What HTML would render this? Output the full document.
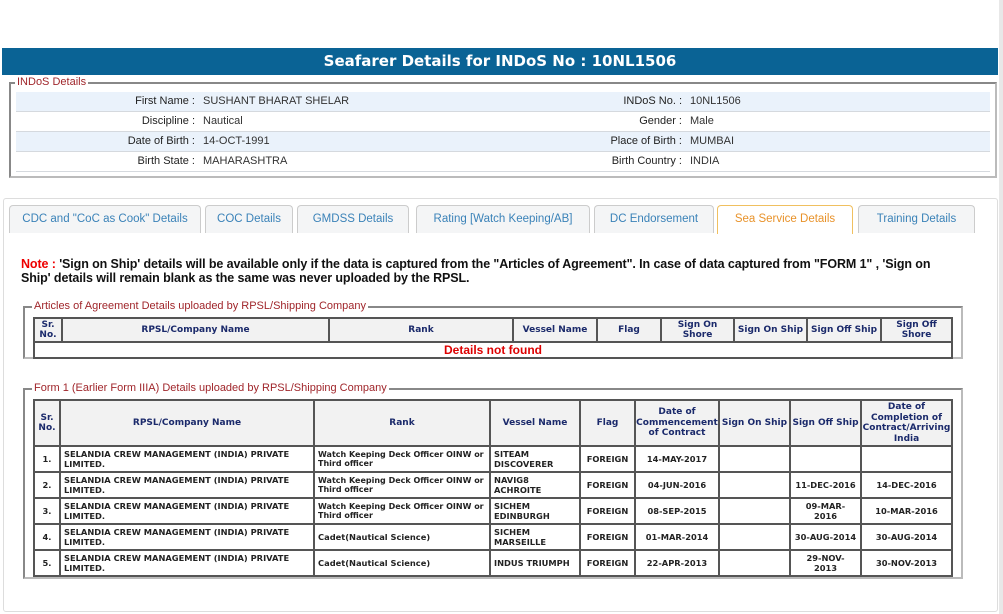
<!DOCTYPE html>
<html><head><meta charset="utf-8"><style>
*{box-sizing:border-box;margin:0;padding:0}
body{width:1003px;height:614px;background:#fff;position:relative;overflow:hidden;font-family:"Liberation Sans",Arial,sans-serif}
.a{position:absolute}
.hdr{left:2px;top:48px;width:996px;height:27px;background:#0a6395;color:#fff;font:bold 15px "DejaVu Sans",Verdana,sans-serif;text-align:center;line-height:27px}
.fs{position:absolute;border:2px solid #888;border-right-color:#bbb;border-bottom-color:#bbb}
.lg{position:absolute;background:#fff;color:#a0262b;font-size:11px;padding:0 2px;line-height:12px}
.row{position:absolute;left:16px;width:974px;height:20px;border-bottom:1px solid #d5d9de;font-size:11px;line-height:19px;color:#333}
.row span{position:absolute}
.l{text-align:right}
.tab{position:absolute;top:205px;height:28px;border:1px solid #ccc;border-bottom:none;border-radius:4px 4px 0 0;background:#f4f5f6;color:#3a82b8;font-size:11.5px;text-align:center;line-height:27px}
table{position:absolute;border-collapse:collapse;table-layout:fixed;font-family:"DejaVu Sans",Verdana,sans-serif;font-weight:bold;font-size:8.3px;color:#222}
td,th{border:2px solid #555;padding:0 3px;overflow:hidden}
th{background:#f2f2f2;color:#1b2a6b;font-size:9px;line-height:10.5px;text-align:center;padding:0}
td.c{text-align:center;padding:0}
</style></head><body>
<div class="a" style="left:999px;top:0;width:4px;height:614px;background:#e8e8e8"></div>
<div class="a hdr">Seafarer Details for INDoS No : 10NL1506</div>
<div class="fs" style="left:9px;top:82px;width:988px;height:96px"></div>
<div class="lg" style="left:15px;top:76px">INDoS Details</div>
<div class="row" style="top:92px;background:#eaf2fb"><span class="l" style="left:0;width:179px;color:#222">First Name :</span><span style="left:187px">SUSHANT BHARAT SHELAR</span><span class="l" style="left:400px;width:266px;color:#222">INDoS No. :</span><span style="left:674px">10NL1506</span></div>
<div class="row" style="top:112px"><span class="l" style="left:0;width:179px;color:#222">Discipline :</span><span style="left:187px">Nautical</span><span class="l" style="left:400px;width:266px;color:#222">Gender :</span><span style="left:674px">Male</span></div>
<div class="row" style="top:132px;background:#eaf2fb"><span class="l" style="left:0;width:179px;color:#222">Date of Birth :</span><span style="left:187px">14-OCT-1991</span><span class="l" style="left:400px;width:266px;color:#222">Place of Birth :</span><span style="left:674px">MUMBAI</span></div>
<div class="row" style="top:152px"><span class="l" style="left:0;width:179px;color:#222">Birth State :</span><span style="left:187px">MAHARASHTRA</span><span class="l" style="left:400px;width:266px;color:#222">Birth Country :</span><span style="left:674px">INDIA</span></div>

<div class="a" style="left:3px;top:198px;width:995px;height:414px;border:1px solid #ddd;border-radius:3px"></div>
<div class="tab" style="left:9px;width:192px">CDC and "CoC as Cook" Details</div>
<div class="tab" style="left:205px;width:88px">COC Details</div>
<div class="tab" style="left:297px;width:112px">GMDSS Details</div>
<div class="tab" style="left:416px;width:174px">Rating [Watch Keeping/AB]</div>
<div class="tab" style="left:594px;width:120px">DC Endorsement</div>
<div class="tab" style="left:717px;width:136px;background:#fff;border-color:#f0c060;color:#e8922a;height:29px">Sea Service Details</div>
<div class="tab" style="left:858px;width:117px">Training Details</div>

<div class="a" style="left:21px;top:257px;width:945px;font-size:12.5px;font-weight:bold;line-height:14px;color:#111;letter-spacing:-0.1px"><span style="color:#e00">Note : </span>'Sign on Ship' details will be available only if the data is captured from the "Articles of Agreement". In case of data captured from "FORM 1" , 'Sign on<br>Ship' details will remain blank as the same was never uploaded by the RPSL.</div>

<div class="fs" style="left:23px;top:306px;width:940px;height:53px"></div>
<div class="lg" style="left:32px;top:300px">Articles of Agreement Details uploaded by RPSL/Shipping Company</div>
<table style="left:33px;top:317px;width:920px">
<colgroup><col style="width:28px"><col style="width:267px"><col style="width:184px"><col style="width:84px"><col style="width:64px"><col style="width:73px"><col style="width:73px"><col style="width:74px"><col></colgroup>
<tr style="height:24px"><th>Sr.<br>No.</th><th>RPSL/Company Name</th><th>Rank</th><th>Vessel Name</th><th>Flag</th><th>Sign On<br>Shore</th><th>Sign On Ship</th><th>Sign Off Ship</th><th>Sign Off<br>Shore</th></tr>
<tr style="height:16px"><td colspan="9" class="c" style="color:#d00;font-family:'Liberation Sans',Arial,sans-serif;font-size:12px;line-height:13px">Details not found</td></tr>
</table>

<div class="fs" style="left:23px;top:388px;width:940px;height:191px"></div>
<div class="lg" style="left:32px;top:382px">Form 1 (Earlier Form IIIA) Details uploaded by RPSL/Shipping Company</div>
<table style="left:33px;top:399px;width:920px">
<colgroup><col style="width:26px"><col style="width:254px"><col style="width:176px"><col style="width:90px"><col style="width:55px"><col style="width:84px"><col style="width:71px"><col style="width:71px"><col></colgroup>
<tr style="height:46px"><th>Sr.<br>No.</th><th>RPSL/Company Name</th><th>Rank</th><th>Vessel Name</th><th>Flag</th><th>Date of<br>Commencement<br>of Contract</th><th>Sign On Ship</th><th>Sign Off Ship</th><th>Date of<br>Completion of<br>Contract/Arriving<br>India</th></tr>
<tr style="height:26px"><td class="c">1.</td><td>SELANDIA CREW MANAGEMENT (INDIA) PRIVATE LIMITED.</td><td style="font-size:8px">Watch Keeping Deck Officer OINW or Third officer</td><td>SITEAM DISCOVERER</td><td class="c">FOREIGN</td><td class="c">14-MAY-2017</td><td></td><td></td><td></td></tr>
<tr style="height:26px"><td class="c">2.</td><td>SELANDIA CREW MANAGEMENT (INDIA) PRIVATE LIMITED.</td><td style="font-size:8px">Watch Keeping Deck Officer OINW or Third officer</td><td>NAVIG8 ACHROITE</td><td class="c">FOREIGN</td><td class="c">04-JUN-2016</td><td></td><td class="c">11-DEC-2016</td><td class="c">14-DEC-2016</td></tr>
<tr style="height:26px"><td class="c">3.</td><td>SELANDIA CREW MANAGEMENT (INDIA) PRIVATE LIMITED.</td><td style="font-size:8px">Watch Keeping Deck Officer OINW or Third officer</td><td>SICHEM EDINBURGH</td><td class="c">FOREIGN</td><td class="c">08-SEP-2015</td><td></td><td class="c">09-MAR-<br>2016</td><td class="c">10-MAR-2016</td></tr>
<tr style="height:26px"><td class="c">4.</td><td>SELANDIA CREW MANAGEMENT (INDIA) PRIVATE LIMITED.</td><td>Cadet(Nautical Science)</td><td>SICHEM MARSEILLE</td><td class="c">FOREIGN</td><td class="c">01-MAR-2014</td><td></td><td class="c">30-AUG-2014</td><td class="c">30-AUG-2014</td></tr>
<tr style="height:26px"><td class="c">5.</td><td>SELANDIA CREW MANAGEMENT (INDIA) PRIVATE LIMITED.</td><td>Cadet(Nautical Science)</td><td>INDUS TRIUMPH</td><td class="c">FOREIGN</td><td class="c">22-APR-2013</td><td></td><td class="c">29-NOV-<br>2013</td><td class="c">30-NOV-2013</td></tr>
</table>
</body></html>
